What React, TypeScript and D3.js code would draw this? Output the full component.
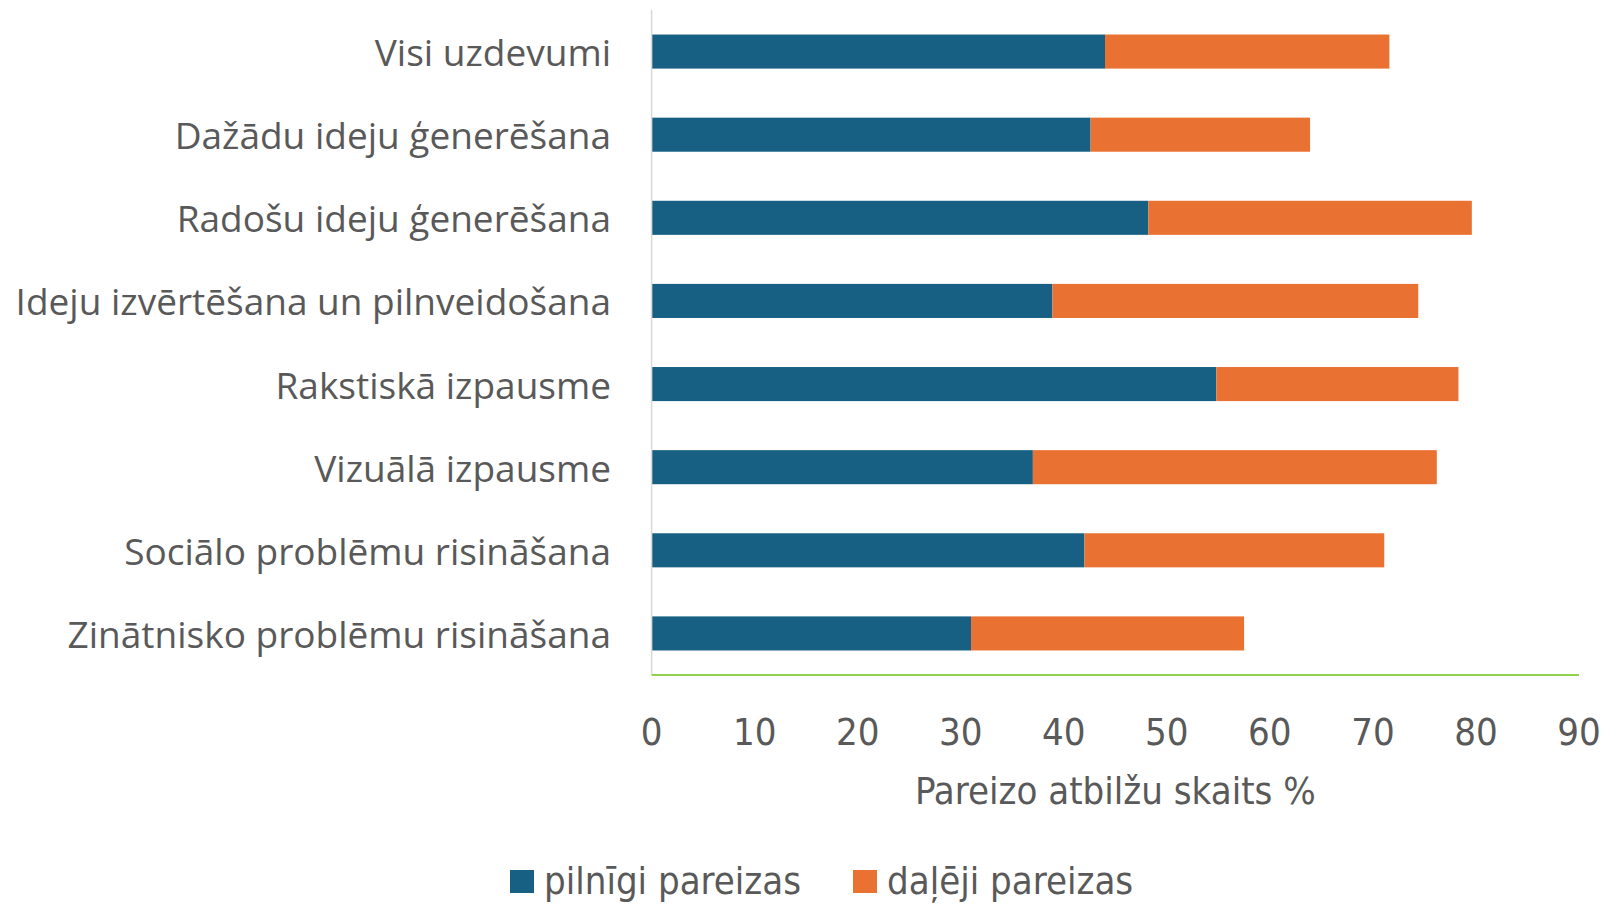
import { useMemo } from "react";
import * as d3 from "d3";

const categories = [
  "Visi uzdevumi",
  "Dažādu ideju ģenerēšana",
  "Radošu ideju ģenerēšana",
  "Ideju izvērtēšana un pilnveidošana",
  "Rakstiskā izpausme",
  "Vizuālā izpausme",
  "Sociālo problēmu risināšana",
  "Zinātnisko problēmu risināšana",
];

// pilnīgi pareizas
const fullyCorrect = [44.0, 42.6, 48.2, 38.9, 54.8, 37.0, 42.0, 31.0];
// daļēji pareizas
const partlyCorrect = [27.6, 21.3, 31.4, 35.5, 23.5, 39.2, 29.1, 26.5];

const xTicks = [0, 10, 20, 30, 40, 50, 60, 70, 80, 90];
const seriesNames = ["pilnīgi pareizas", "daļēji pareizas"];
const seriesColors = ["#176084", "#E97132"];

const W = 1609;
const H = 906;
const TEXT = "#595959";
const NARROW = "'Liberation Sans Narrow', 'DejaVu Sans Condensed', sans-serif";
const LABEL_FONT = "'Open Sans', 'Noto Sans', sans-serif";

export default function App() {
  const x = useMemo(() => d3.scaleLinear().domain([0, 90]).range([651.6, 1579]), []);
  const y = useMemo(
    () =>
      d3.scaleBand<string>()
        .domain(categories)
        .range([10, 675])
        .paddingInner(0.59)
        .paddingOuter(0.295),
    []
  );

  const rows = categories.map((c, i) => ({
    cat: c,
    a: fullyCorrect[i],
    b: partlyCorrect[i],
  }));

  return (
    <svg
      width={W}
      height={H}
      style={{ position: "absolute", left: 0, top: 0, background: "#fff" }}
    >
      {/* bars */}
      {rows.map((r) => (
        <g key={r.cat}>
          <rect
            x={x(0)}
            y={y(r.cat)}
            width={x(r.a) - x(0)}
            height={y.bandwidth()}
            fill={seriesColors[0]}
          />
          <rect
            x={x(r.a)}
            y={y(r.cat)}
            width={x(r.a + r.b) - x(r.a)}
            height={y.bandwidth()}
            fill={seriesColors[1]}
          />
        </g>
      ))}

      {/* axes lines */}
      <line x1={x(0)} x2={x(0)} y1={10} y2={675} stroke="#d9d9d9" strokeWidth={1.5} />
      <line x1={x(0)} x2={x(90)} y1={675} y2={675} stroke="#92d050" strokeWidth={2} />

      {/* category labels */}
      {categories.map((c) => (
        <text
          key={c}
          x={611}
          y={(y(c) ?? 0) + y.bandwidth() / 2}
          textAnchor="end"
          dominantBaseline="central"
          fontFamily={LABEL_FONT}
          fontSize={37}
          fill={TEXT}
        >
          {c}
        </text>
      ))}

      {/* x tick labels */}
      {xTicks.map((t) => (
        <text
          key={t}
          x={x(t)}
          y={732}
          textAnchor="middle"
          dominantBaseline="central"
          fontFamily={NARROW}
          fontSize={38}
          fill={TEXT}
        >
          {t}
        </text>
      ))}

      {/* axis title */}
      <text
        x={(x(0) + x(90)) / 2}
        y={791}
        textAnchor="middle"
        dominantBaseline="central"
        fontFamily={NARROW}
        fontSize={38}
        fill={TEXT}
      >
        Pareizo atbilžu skaits %
      </text>

      {/* legend */}
      {seriesNames.map((n, i) => {
        const lx = i === 0 ? 510 : 853;
        return (
          <g key={n}>
            <rect x={lx} y={870} width={24} height={23} fill={seriesColors[i]} />
            <text
              x={lx + 34}
              y={881}
              dominantBaseline="central"
              fontFamily={NARROW}
              fontSize={38}
              fill={TEXT}
            >
              {n}
            </text>
          </g>
        );
      })}
    </svg>
  );
}
